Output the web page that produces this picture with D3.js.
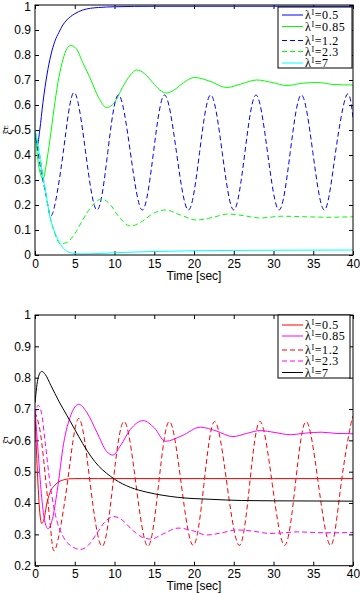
<!DOCTYPE html>
<html>
<head>
<meta charset="utf-8">
<script src="https://cdn.jsdelivr.net/npm/d3@7"></script>
<style>
  html, body { margin: 0; padding: 0; background: #fff; }
  svg { display: block; }
  .tick text { font-family: "Liberation Sans", Arial, sans-serif; font-size: 12px; fill: #000; }
  .tick line { stroke: #000; stroke-width: 1; }
</style>
</head>
<body>
<svg id="chart" width="360" height="593"></svg>
<script>
// ---------- DATA ----------
const xTicks = [0, 5, 10, 15, 20, 25, 30, 35, 40];
const yTicksTop = [0, 0.1, 0.2, 0.3, 0.4, 0.5, 0.6, 0.7, 0.8, 0.9, 1];
const yTicksBottom = [0.2, 0.3, 0.4, 0.5, 0.6, 0.7, 0.8, 0.9, 1];
const legendLabels = ["0.5", "0.85", "1.2", "2.3", "7"];
const xLabel = "Time [sec]";

// Top panel (ξ^E)
const tTopA = [0,0.3,0.6,1,1.5,2,2.5,3,3.5,4,5,6,7,8,10,15,20,30,40];
const vTopA = [0.50,0.44,0.50,0.61,0.72,0.80,0.855,0.89,0.92,0.94,0.965,0.98,0.987,0.99,0.993,0.995,0.995,0.995,0.995];

const tTopB = [0,0.5,1,1.5,2,2.5,3,3.5,4,4.5,5.2,6,6.9,8,9,10,11,12,12.8,13.8,14.8,15.7,16.5,17.5,18.5,20.1,22,24.1,26,27.9,29.8,31.7,33.6,35.5,37.6,40];
const vTopB = [0.50,0.35,0.305,0.38,0.49,0.61,0.71,0.78,0.825,0.838,0.825,0.77,0.71,0.63,0.59,0.61,0.67,0.72,0.74,0.725,0.69,0.66,0.648,0.66,0.685,0.71,0.695,0.67,0.685,0.70,0.69,0.678,0.687,0.69,0.682,0.68];

const tTopC = [0,0.8,1.5,2.2,3.55,4.9,6.35,7.8,9.15,10.5,12.0,13.5,14.9,16.3,17.8,19.3,20.7,22.1,23.55,25.0,26.4,27.8,29.25,30.7,32.1,33.5,34.95,36.4,37.8,39.2,40];
const vTopC = [0.50,0.33,0.22,0.165,0.41,0.65,0.415,0.18,0.41,0.64,0.41,0.18,0.41,0.64,0.41,0.18,0.41,0.64,0.41,0.18,0.41,0.64,0.41,0.18,0.41,0.64,0.41,0.18,0.41,0.64,0.55];

const tTopD = [0,0.5,1,1.5,2,2.5,3.2,4,5,6,7,8.4,9.5,10.5,12,13.5,14.8,16.4,18.3,20.3,22.3,24.3,26.3,28.3,31,34,37,40];
const vTopD = [0.50,0.42,0.32,0.22,0.14,0.085,0.045,0.05,0.085,0.14,0.19,0.224,0.2,0.155,0.116,0.135,0.165,0.18,0.16,0.14,0.15,0.164,0.157,0.148,0.155,0.153,0.151,0.153];

const tTopE = [0,0.3,0.6,1,1.3,1.9,2.5,3,3.5,4,5,6,8,10,15,20,30,40];
const vTopE = [0.50,0.45,0.39,0.31,0.26,0.15,0.09,0.055,0.03,0.015,0.006,0.004,0.006,0.009,0.014,0.017,0.019,0.02];

// Bottom panel (ξ^I)
const tBotA = [0,0.3,0.6,0.85,1.1,1.5,2,2.5,3,3.6,4.2,5,6,8,10,20,30,40];
const vBotA = [0.69,0.5,0.37,0.335,0.345,0.40,0.44,0.457,0.468,0.474,0.477,0.478,0.478,0.478,0.478,0.478,0.478,0.478];

const tBotB = [0,0.4,0.8,1.2,1.65,2.2,2.8,3.6,4.5,5.5,6.5,7.8,9,9.8,10.8,12,13.6,15,16.4,18.5,20.8,22.8,24.9,26.6,28.3,30.2,32.1,34,36,38,40];
const vBotB = [0.70,0.56,0.43,0.345,0.318,0.35,0.44,0.59,0.68,0.715,0.69,0.625,0.565,0.553,0.585,0.635,0.663,0.64,0.597,0.615,0.642,0.63,0.612,0.622,0.631,0.625,0.618,0.623,0.626,0.622,0.621];

const tBotC = [0,0.7,1.4,2,2.6,4.05,5.5,6.95,8.45,9.8,11.2,12.7,14.2,15.55,16.9,18.4,19.9,21.25,22.6,24.15,25.7,27.0,28.3,29.85,31.4,32.75,34.1,35.65,37.2,38.5,39.8,40];
const vBotC = [0.69,0.62,0.46,0.31,0.255,0.46,0.67,0.46,0.262,0.46,0.66,0.46,0.262,0.46,0.66,0.46,0.265,0.46,0.66,0.46,0.265,0.46,0.66,0.46,0.265,0.46,0.66,0.46,0.265,0.46,0.66,0.658];

const tBotD = [0,0.4,0.8,1.3,1.9,2.5,3.6,4.6,5.7,6.7,7.7,8.8,9.9,11,12.2,13.4,14.6,16,18,19.8,21.6,23.5,25.4,27.5,29.5,31.3,33,35,37.5,40];
const vBotD = [0.68,0.712,0.69,0.59,0.46,0.37,0.29,0.262,0.252,0.265,0.3,0.34,0.357,0.345,0.315,0.292,0.285,0.3,0.32,0.312,0.298,0.305,0.314,0.31,0.303,0.305,0.308,0.306,0.305,0.306];

const tBotE = [0,0.4,0.84,1.3,2,3,4,5,6,7,8,9,10,12,14,16,18,22,26,30,40];
const vBotE = [0.72,0.8,0.82,0.81,0.775,0.725,0.68,0.635,0.59,0.55,0.518,0.495,0.476,0.45,0.435,0.425,0.418,0.412,0.408,0.407,0.406];

// ---------- DRAW ----------
const svg = d3.select("#chart");
const left = 35, right = 353;

const panels = [
  { top: 5, bottom: 255, yDomain: [0, 1], yTicks: yTicksTop, ylab: "E", id: "p1",
    labelBase: 280,
    legend: { x0: 278, x1: 352, y0: 7, y1: 68, rows: [15, 26.5, 40.5, 51.5, 63] },
    series: [
      { t: tTopA, v: vTopA, color: "#0000ff", dash: null, curve: d3.curveMonotoneX },
      { t: tTopB, v: vTopB, color: "#00ff00", dash: null, curve: d3.curveMonotoneX },
      { t: tTopC, v: vTopC, color: "#0000ff", dash: "5,3", curve: d3.curveNatural },
      { t: tTopD, v: vTopD, color: "#00ff00", dash: "5,3", curve: d3.curveMonotoneX },
      { t: tTopE, v: vTopE, color: "#00ffff", dash: null, curve: d3.curveMonotoneX }
    ] },
  { top: 315, bottom: 565.7, yDomain: [0.2, 1], yTicks: yTicksBottom, ylab: "I", id: "p2",
    labelBase: 590,
    legend: { x0: 278, x1: 350, y0: 315, y1: 378, rows: [325, 336, 350, 361, 372.5] },
    series: [
      { t: tBotA, v: vBotA, color: "#ff0000", dash: null, curve: d3.curveMonotoneX },
      { t: tBotB, v: vBotB, color: "#ff00ff", dash: null, curve: d3.curveMonotoneX },
      { t: tBotC, v: vBotC, color: "#ff0000", dash: "5,3", curve: d3.curveNatural },
      { t: tBotD, v: vBotD, color: "#ff00ff", dash: "5,3", curve: d3.curveMonotoneX },
      { t: tBotE, v: vBotE, color: "#000000", dash: null, curve: d3.curveMonotoneX }
    ] }
];

panels.forEach(p => {
  const x = d3.scaleLinear().domain([0, 40]).range([left, right]);
  const y = d3.scaleLinear().domain(p.yDomain).range([p.bottom, p.top]);
  const g = svg.append("g");

  g.append("clipPath").attr("id", "clip-" + p.id)
    .append("rect").attr("x", left).attr("y", p.top)
    .attr("width", right - left).attr("height", p.bottom - p.top);

  // axes with inward ticks
  const ax = g.append("g").attr("transform", `translate(0,${p.bottom})`)
    .call(d3.axisBottom(x).tickValues(xTicks).tickSize(-4).tickPadding(4).tickFormat(d3.format("d")));
  ax.select(".domain").remove();
  const axT = g.append("g").attr("transform", `translate(0,${p.top})`)
    .call(d3.axisTop(x).tickValues(xTicks).tickSize(-4).tickFormat(""));
  axT.select(".domain").remove();
  const ay = g.append("g").attr("transform", `translate(${left},0)`)
    .call(d3.axisLeft(y).tickValues(p.yTicks).tickSize(-4).tickPadding(4).tickFormat(d3.format("~g")));
  ay.select(".domain").remove();
  if (p.id === "p1") ay.selectAll(".tick text").filter(d => d === 1).attr("dy", "0.42em");
  const ayR = g.append("g").attr("transform", `translate(${right},0)`)
    .call(d3.axisRight(y).tickValues(p.yTicks).tickSize(-4).tickFormat(""));
  ayR.select(".domain").remove();

  // lines
  const lg = g.append("g").attr("clip-path", `url(#clip-${p.id})`);
  p.series.forEach(s => {
    const pts = s.t.map((t, i) => [t, s.v[i]]);
    const line = d3.line().x(d => x(d[0])).y(d => y(d[1])).curve(s.curve);
    lg.append("path").attr("d", line(pts))
      .attr("fill", "none").attr("stroke", s.color).attr("stroke-width", 1)
      .attr("stroke-dasharray", s.dash);
  });

  // frame
  g.append("rect").attr("x", left).attr("y", p.top)
    .attr("width", right - left).attr("height", p.bottom - p.top)
    .attr("fill", "none").attr("stroke", "#000").attr("stroke-width", 1);

  // x label
  g.append("text").attr("x", (left + right) / 2).attr("y", p.labelBase)
    .attr("text-anchor", "middle")
    .style("font-family", "Liberation Sans, Arial, sans-serif").style("font-size", "12px")
    .text(xLabel);

  // y label (rotated)
  const yl = g.append("text")
    .attr("transform", `translate(12,${(p.top + p.bottom) / 2}) rotate(-90)`)
    .attr("text-anchor", "middle")
    .style("font-family", "Liberation Serif, serif").style("font-size", "12px");
  yl.append("tspan").text("ξ\u0304");
  yl.append("tspan").attr("dy", -4).style("font-size", "7px").text(p.ylab);

  // legend
  const L = p.legend;
  g.append("rect").attr("x", L.x0).attr("y", L.y0)
    .attr("width", L.x1 - L.x0).attr("height", L.y1 - L.y0)
    .attr("fill", "#fff").attr("stroke", "#000").attr("stroke-width", 1);
  p.series.forEach((s, i) => {
    const yy = L.rows[i];
    g.append("line").attr("x1", 282).attr("x2", 303).attr("y1", yy).attr("y2", yy)
      .attr("stroke", s.color).attr("stroke-width", 1).attr("stroke-dasharray", s.dash);
    const t = g.append("text").attr("x", 305).attr("y", yy + 4)
      .style("font-family", "Liberation Serif, serif").style("font-size", "12px")
      .style("letter-spacing", "0.6px");
    t.append("tspan").text("λ");
    t.append("tspan").attr("dy", -4).style("font-size", "8px").text("I");
    t.append("tspan").attr("dy", 4).text("=" + legendLabels[i]);
  });
});
</script>
</body>
</html>
